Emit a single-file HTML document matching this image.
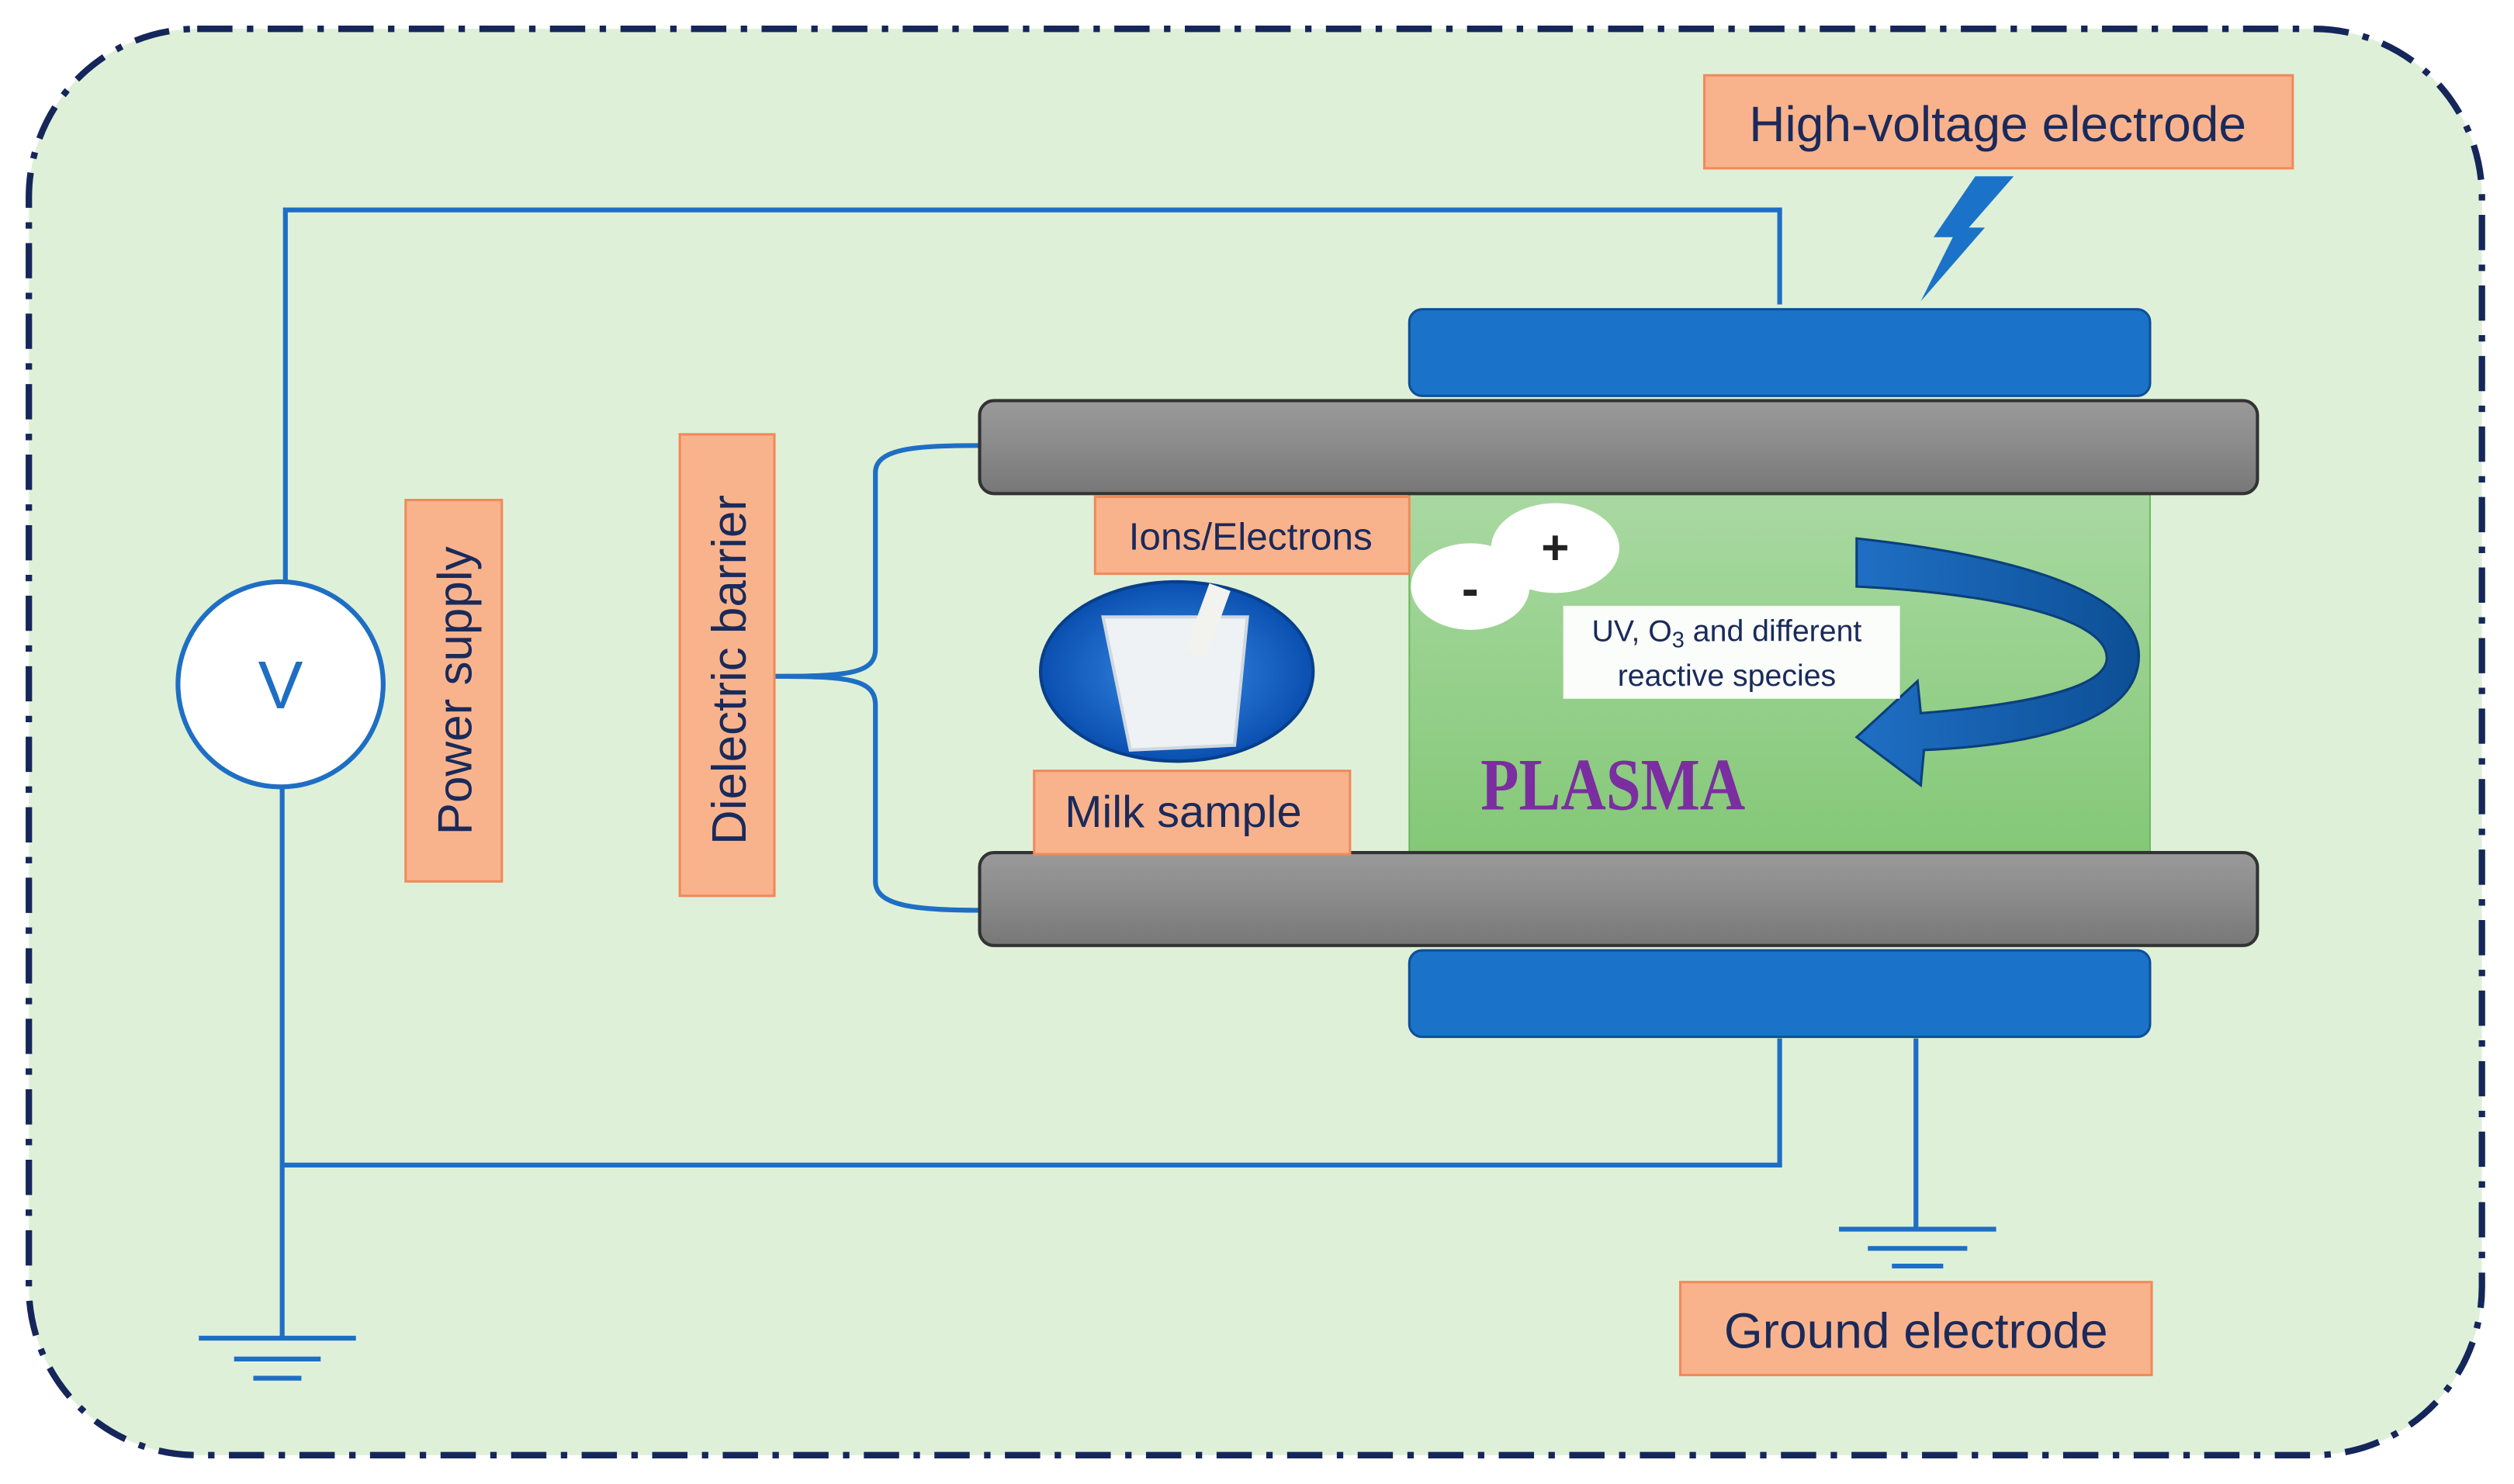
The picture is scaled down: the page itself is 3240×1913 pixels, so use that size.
<!DOCTYPE html>
<html><head><meta charset="utf-8"><style>
html,body{margin:0;padding:0;background:#fff;}
svg{display:block;}
</style></head><body>
<svg width="3240" height="1913" viewBox="0 0 1568 926" preserveAspectRatio="none" xmlns="http://www.w3.org/2000/svg" font-family="Liberation Sans, sans-serif">
<defs>
<linearGradient id="gray" x1="0" y1="0" x2="0" y2="1">
<stop offset="0" stop-color="#9a9a9a"/><stop offset="0.5" stop-color="#8a8a8a"/><stop offset="1" stop-color="#777"/>
</linearGradient>
<linearGradient id="pl" x1="0" y1="0" x2="0" y2="1">
<stop offset="0" stop-color="#a9d9a2"/><stop offset="1" stop-color="#84c877"/>
</linearGradient>
<radialGradient id="milk" cx="0.5" cy="0.5" r="0.5">
<stop offset="0" stop-color="#3a8ee8"/><stop offset="1" stop-color="#0a4fb0"/>
</radialGradient>
<linearGradient id="arr" x1="0" y1="0" x2="1" y2="0">
<stop offset="0" stop-color="#1f6fc4"/><stop offset="1" stop-color="#0d4f96"/>
</linearGradient>
</defs>
<rect x="18" y="18" width="1530" height="890" rx="105" fill="#dff0d9" stroke="#15265a" stroke-width="4" stroke-dasharray="22,9,4,9"/>
<g stroke="#1e6fc4" stroke-width="3" fill="none">
<polyline points="178,362 178,131 1110,131 1110,190"/>
<polyline points="176,491 176,835"/>
<polyline points="176,727 1110,727 1110,648"/>
<line x1="124" y1="835" x2="222" y2="835"/>
<line x1="146" y1="848" x2="200" y2="848"/>
<line x1="158" y1="860" x2="188" y2="860"/>
<line x1="1195" y1="648" x2="1195" y2="767"/>
<line x1="1147" y1="767" x2="1245" y2="767"/>
<line x1="1165" y1="779" x2="1227" y2="779"/>
<line x1="1180" y1="790" x2="1212" y2="790"/>
<path d="M483,422 C530,422 546,420 546,405 L546,295 C546,280 570,278 611,278"/>
<path d="M483,422 C530,422 546,424 546,440 L546,550 C546,565 570,568 611,568"/>
</g>
<circle cx="175" cy="427" r="64" fill="#fff" stroke="#1e6fc4" stroke-width="3"/>
<text x="175" y="442" font-size="42" fill="#1e6fc4" text-anchor="middle">V</text>
<rect x="879" y="306" width="462" height="228" fill="url(#pl)" stroke="#6cb85e" stroke-width="1"/>
<rect x="879" y="193" width="462" height="54" rx="8" fill="#1a73c8" stroke="#0f4f95" stroke-width="1.5"/>
<rect x="879" y="593" width="462" height="54" rx="8" fill="#1a73c8" stroke="#0f4f95" stroke-width="1.5"/>
<rect x="611" y="250" width="797" height="58" rx="9" fill="url(#gray)" stroke="#333" stroke-width="2"/>
<rect x="611" y="532" width="797" height="58" rx="9" fill="url(#gray)" stroke="#333" stroke-width="2"/>
<polygon points="1232,110 1256,110 1228,142 1238,142 1198,188 1218,148 1206,148" fill="#1a73c8"/>
<g fill="#f9b38c" stroke="#f08a5a" stroke-width="1.5">
<rect x="1063" y="47" width="367" height="58"/>
<rect x="1048" y="800" width="294" height="58"/>
<rect x="683" y="310" width="196" height="48"/>
<rect x="645" y="481" width="197" height="52"/>
<rect x="253" y="312" width="60" height="238"/>
<rect x="424" y="271" width="59" height="288"/>
</g>
<g fill="#1a2a5a">
<text x="1246" y="88" font-size="31" text-anchor="middle">High-voltage electrode</text>
<text x="1195" y="841" font-size="31" text-anchor="middle">Ground electrode</text>
<text x="780" y="343" font-size="24" text-anchor="middle">Ions/Electrons</text>
<text x="738" y="516" font-size="28" text-anchor="middle">Milk sample</text>
<text transform="translate(294,431) rotate(-90)" font-size="30" text-anchor="middle">Power supply</text>
<text transform="translate(465,418) rotate(-90)" font-size="30" text-anchor="middle">Dielectric barrier</text>
</g>
<ellipse cx="734" cy="419" rx="85" ry="56" fill="url(#milk)" stroke="#083f8a" stroke-width="2"/>
<path d="M688,385 L778,385 L770,465 L705,468 Z" fill="#eef2f5" stroke="#cfd8de" stroke-width="2"/>
<rect x="746" y="365" width="14" height="45" fill="#f2f2ee" transform="rotate(20 753 388)"/>
<ellipse cx="970" cy="342" rx="40" ry="28" fill="#fff"/>
<ellipse cx="917" cy="366" rx="37" ry="27" fill="#fff"/>
<text x="970" y="352" font-size="30" font-weight="bold" fill="#222" text-anchor="middle">+</text>
<text x="917" y="378" font-size="32" font-weight="bold" fill="#222" text-anchor="middle">-</text>
<path d="M1158,336 C1240,345 1335,365 1334,410 C1333,450 1270,465 1200,468 L1198,490 L1158,460 L1196,425 L1198,445 C1260,440 1315,430 1314,410 C1313,385 1240,370 1158,366 Z" fill="url(#arr)" stroke="#0b3f7a" stroke-width="1.5"/>
<rect x="975" y="378" width="210" height="58" fill="#fff" opacity="0.95"/>
<text x="1077" y="400" font-size="19" fill="#1a2a5a" text-anchor="middle">UV, O<tspan font-size="14" dy="4">3</tspan><tspan dy="-4"> and different</tspan></text>
<text x="1077" y="428" font-size="19" fill="#1a2a5a" text-anchor="middle">reactive species</text>
<text x="1006" y="505" font-size="46" font-weight="bold" fill="#7a2ea0" text-anchor="middle" font-family="Liberation Serif, serif" transform="translate(1006,0) scale(0.85,1) translate(-1006,0)">PLASMA</text>
</svg>
</body></html>
